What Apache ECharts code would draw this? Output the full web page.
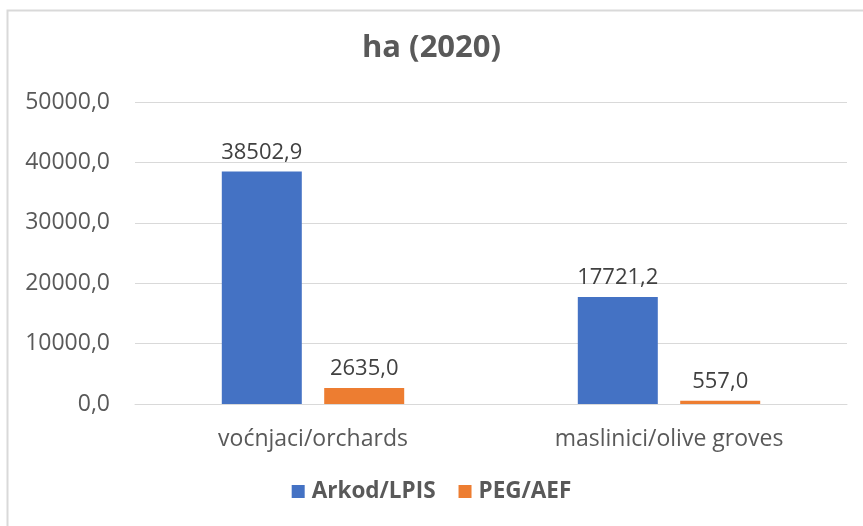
<!DOCTYPE html>
<html>
<head>
<meta charset="utf-8">
<script src="https://cdn.jsdelivr.net/npm/echarts@6/dist/echarts.min.js"></script>
<style>html,body{margin:0;padding:0;background:#fff}#c{width:863px;height:526px}</style>
</head>
<body>
<div id="c"></div>
<script>
const categories = ['voćnjaci/orchards', 'maslinici/olive groves'];
const seriesNames = ['Arkod/LPIS', 'PEG/AEF'];
const arkod = [38502.9, 17721.2];
const peg = [2635.0, 557.0];
const yTicks = { min: 0, max: 50000, interval: 10000 };

const fmt = v => v.toFixed(1).replace('.', ',');
const font = '"Open Sans", "Noto Sans", sans-serif';
const chart = echarts.init(document.getElementById('c'));
chart.setOption({
  animation: false,
  textStyle: { fontFamily: font },
  title: {
    text: 'ha (2020)', left: 'center', top: 28,
    textStyle: { fontFamily: font, fontSize: 31, fontWeight: 'bold', color: '#595959' }
  },
  graphic: [{
    type: 'rect', shape: { x: 7.5, y: 10.5, width: 870, height: 540 },
    style: { fill: 'none', stroke: '#d9d9d9', lineWidth: 2 }, silent: true
  }],
  legend: {
    data: seriesNames, bottom: 18, left: 'center', itemWidth: 13, itemHeight: 13, itemGap: 23,
    icon: 'rect',
    textStyle: { fontFamily: font, fontSize: 22.5, fontWeight: 'bold', color: '#595959', padding: [0, 0, 0, 2] }
  },
  grid: { left: 135, right: 16, top: 102, bottom: 122, containLabel: false },
  xAxis: {
    type: 'category', data: categories,
    axisLine: { lineStyle: { color: '#d9d9d9', width: 1 } },
    axisTick: { show: false },
    axisLabel: { fontFamily: font, fontSize: 23, color: '#595959', margin: 24 }
  },
  yAxis: {
    type: 'value', min: yTicks.min, max: yTicks.max, interval: yTicks.interval,
    axisLine: { show: false }, axisTick: { show: false },
    splitLine: { lineStyle: { color: '#d9d9d9', width: 1 } },
    axisLabel: { fontFamily: font, fontSize: 23, color: '#595959', margin: 25, formatter: fmt }
  },
  series: [
    { name: seriesNames[0], type: 'bar', data: arkod, barWidth: 80, barGap: '28%',
      itemStyle: { color: '#4472c4' },
      label: { show: true, position: 'top', distance: 8, formatter: p => fmt(p.value), fontFamily: font, fontSize: 22, color: '#404040' } },
    { name: seriesNames[1], type: 'bar', data: peg, barWidth: 80,
      itemStyle: { color: '#ed7d31' },
      label: { show: true, position: 'top', distance: 8, formatter: p => fmt(p.value), fontFamily: font, fontSize: 22, color: '#404040' } }
  ]
});
</script>
</body>
</html>
